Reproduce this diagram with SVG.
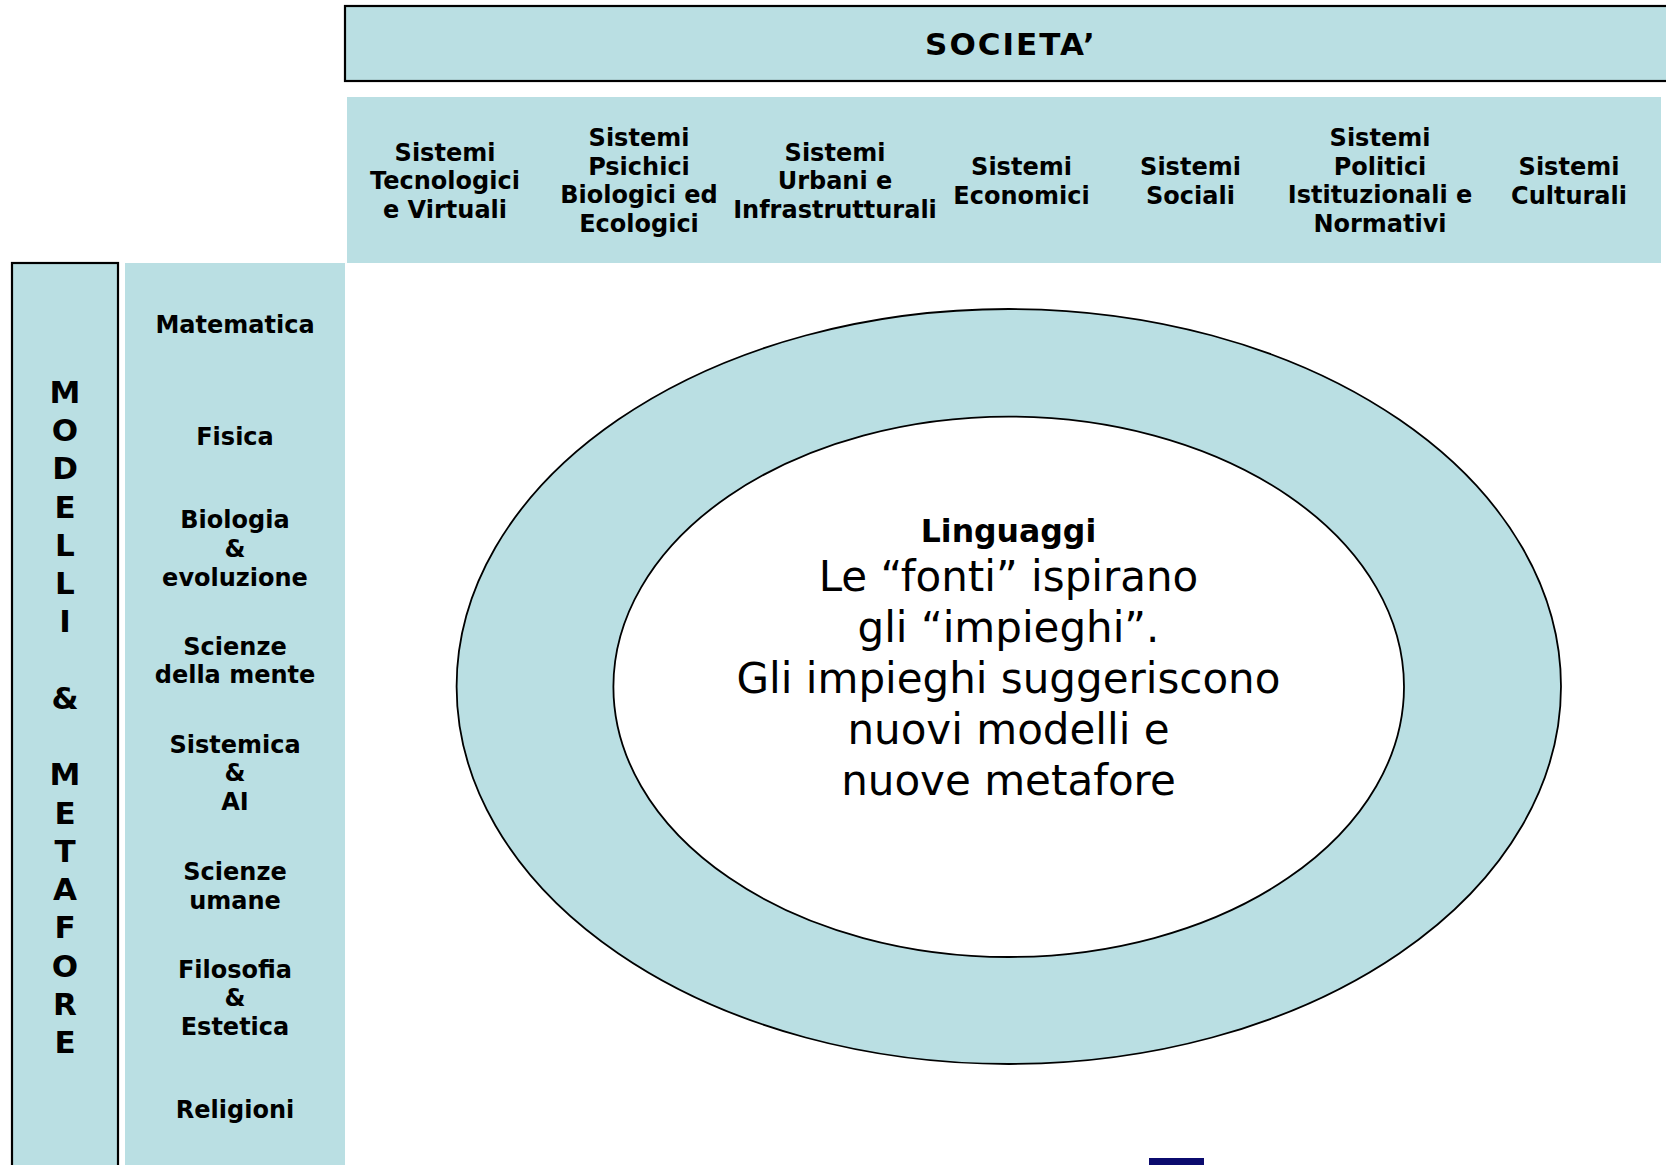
<svg xmlns="http://www.w3.org/2000/svg" width="1666" height="1165" viewBox="0 0 1666 1165">
<style>
.fill{fill:#BADFE3}
.b{font-family:"DejaVu Sans","Verdana",sans-serif;font-weight:bold;font-size:24px;fill:#000;text-anchor:middle}
.big{font-size:31px}
.r{font-family:"DejaVu Sans","Verdana",sans-serif;font-size:42px;fill:#000;text-anchor:middle}
</style>
<rect width="1666" height="1165" fill="#fff"/>

<g id="societa">
<rect class="fill" x="345" y="6" width="1340" height="75" stroke="#000" stroke-width="2.2"/>
<text class="b big" x="1011" y="55" letter-spacing="2">SOCIETA’</text>
</g>

<g id="sistemi">
<rect class="fill" x="347" y="97" width="1314" height="166"/>
<text class="b" x="445" y="160.5">Sistemi</text>
<text class="b" x="445" y="189">Tecnologici</text>
<text class="b" x="445" y="217.5">e Virtuali</text>

<text class="b" x="639" y="146">Sistemi</text>
<text class="b" x="639" y="174.6">Psichici</text>
<text class="b" x="639" y="203.2">Biologici ed</text>
<text class="b" x="639" y="231.8">Ecologici</text>

<text class="b" x="835" y="160.5">Sistemi</text>
<text class="b" x="835" y="189">Urbani e</text>
<text class="b" x="835" y="217.5">Infrastrutturali</text>

<text class="b" x="1021.5" y="175">Sistemi</text>
<text class="b" x="1021.5" y="203.5">Economici</text>

<text class="b" x="1190.5" y="175">Sistemi</text>
<text class="b" x="1190.5" y="203.5">Sociali</text>

<text class="b" x="1380" y="146">Sistemi</text>
<text class="b" x="1380" y="174.6">Politici</text>
<text class="b" x="1380" y="203.2">Istituzionali e</text>
<text class="b" x="1380" y="231.8">Normativi</text>

<text class="b" x="1569" y="175">Sistemi</text>
<text class="b" x="1569" y="203.5">Culturali</text>
</g>

<g id="modelli-metafore">
<rect class="fill" x="12" y="263" width="106" height="930" stroke="#000" stroke-width="2.2"/>
<text class="b big" x="65" y="402.7">M</text>
<text class="b big" x="65" y="441">O</text>
<text class="b big" x="65" y="479.2">D</text>
<text class="b big" x="65" y="517.5">E</text>
<text class="b big" x="65" y="555.7">L</text>
<text class="b big" x="65" y="594">L</text>
<text class="b big" x="65" y="632.2">I</text>
<text class="b big" x="65" y="708.7">&amp;</text>
<text class="b big" x="65" y="785.2">M</text>
<text class="b big" x="65" y="823.5">E</text>
<text class="b big" x="65" y="861.7">T</text>
<text class="b big" x="65" y="900">A</text>
<text class="b big" x="65" y="938.2">F</text>
<text class="b big" x="65" y="976.5">O</text>
<text class="b big" x="65" y="1014.7">R</text>
<text class="b big" x="65" y="1053">E</text>
</g>

<g id="fonti">
<rect class="fill" x="125" y="263" width="220" height="910"/>
<text class="b" x="235" y="333">Matematica</text>
<text class="b" x="235" y="444.5">Fisica</text>
<text class="b" x="235" y="528.3">Biologia</text>
<text class="b" x="235" y="557">&amp;</text>
<text class="b" x="235" y="585.7">evoluzione</text>
<text class="b" x="235" y="654.5">Scienze</text>
<text class="b" x="235" y="683.2">della mente</text>
<text class="b" x="235" y="752.5">Sistemica</text>
<text class="b" x="235" y="781.2">&amp;</text>
<text class="b" x="235" y="809.9">AI</text>
<text class="b" x="235" y="880">Scienze</text>
<text class="b" x="235" y="908.7">umane</text>
<text class="b" x="235" y="977.7">Filosofia</text>
<text class="b" x="235" y="1006.4">&amp;</text>
<text class="b" x="235" y="1035">Estetica</text>
<text class="b" x="235" y="1118.2">Religioni</text>
</g>

<g id="linguaggi">
<ellipse class="fill" cx="1008.8" cy="686.5" rx="552.2" ry="377.5" stroke="#000" stroke-width="1.8"/>
<ellipse cx="1008.7" cy="686.8" rx="395.3" ry="270.2" fill="#fff" stroke="#000" stroke-width="1.8"/>
<text class="b" x="1008.5" y="542" style="font-size:31.5px">Linguaggi</text>
<text class="r" x="1008.5" y="590.5">Le “fonti” ispirano</text>
<text class="r" x="1008.5" y="641.7">gli “impieghi”.</text>
<text class="r" x="1008.5" y="692.9">Gli impieghi suggeriscono</text>
<text class="r" x="1008.5" y="744">nuovi modelli e</text>
<text class="r" x="1008.5" y="795.3">nuove metafore</text>
</g>

<g id="connectors"></g>

<rect x="1149" y="1158" width="55" height="8" fill="#0B0B6E"/>
</svg>
